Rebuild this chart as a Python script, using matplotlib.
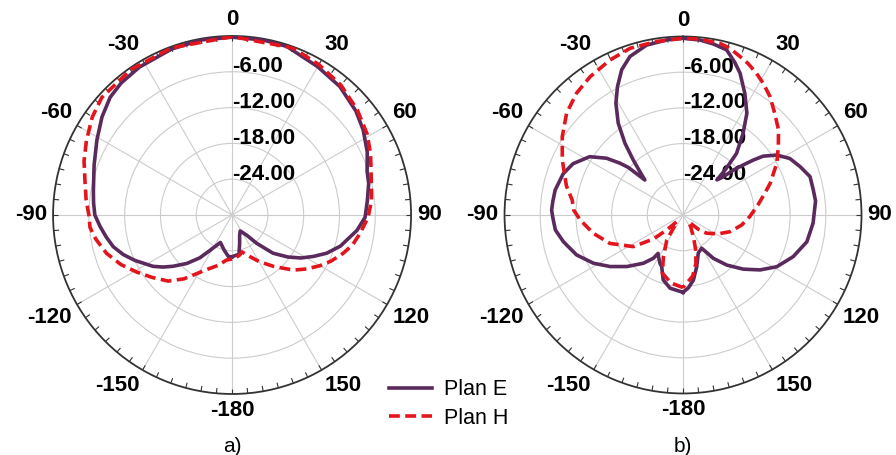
import numpy as np
import matplotlib
matplotlib.use("Agg")
import matplotlib.pyplot as plt
import matplotlib.transforms as mtransforms
from matplotlib.lines import Line2D

plt.rcParams['font.family'] = ['Liberation Sans', 'DejaVu Sans']

# a) Plan E (angle en degrés, gain en dB)
ang_a_e = [-180, -175, -167, -157, -148, -143, -137, -131, -127, -123, -115, -110, -105,
           -100, -95, -90, -85, -80, -75, -70, -61, -53, -46, -40, -32, -20, -10,
           0, 10, 18, 30, 40, 50, 57, 65, 72, 77, 84, 91, 97, 106, 112, 117, 122, 127, 133,
           139, 144, 153, 160, 165, 170, 175, 180]
gain_a_e = [-23.0, -23.0, -24.0, -25.0, -23.0, -21.0, -18.9, -16.9, -15.5, -14.2, -12.0, -10.6, -9.4,
            -8.6, -7.8, -7.0, -6.7, -6.4, -6.0, -5.4, -4.1, -2.7, -1.6, -1.1, -0.75, -0.4, -0.2,
            -0.2, -0.2, -0.3, -1.3, -1.9, -2.9, -3.8, -5.0, -6.2, -6.5, -7.2, -7.7, -8.9, -11.1, -12.9, -14.7,
            -16.4, -18.3, -20.6, -23.7, -25.8, -27.0, -26.3, -25.1, -23.3, -23.2, -23.0]

# a) Plan H
ang_a_h = [-180, -173, -165, -155, -150, -143, -136, -128, -121, -114, -107, -100,
           -95, -90, -84, -77, -70, -63, -55, -48, -35, -20, 0, 20, 30, 40, 50, 59, 66, 72,
           84, 91, 98, 104, 109, 115, 120, 126, 132, 141, 150, 160, 165, 169, 175, 180]
gain_a_h = [-22.6, -22.4, -21.3, -19.9, -18.8, -16.6, -14.6, -13.0, -11.4, -9.6, -8.0, -6.8,
            -6.1, -6.0, -5.4, -4.7, -3.6, -2.6, -1.4, -0.6, -0.3, -0.2, -0.1, -0.2, -0.9, -1.6, -2.6, -3.6,
            -4.6, -5.5, -6.5, -7.2, -8.3, -9.2, -10.3, -11.7, -13.0, -14.6, -16.2, -18.9, -21.0, -22.9,
            -23.6, -23.2, -22.8, -22.6]

# b) Plan E
ang_b_e = [-180, -170, -163, -157.6, -154.5, -150, -147, -145.6, -140.6, -132.6, -125.3,
           -118.3, -110.6, -102.6, -96.7, -91, -87.8, -84, -79, -71, -65, -58, -53.4,
           -50.6, -49, -47.5, -44.8, -42.1, -39, -35.2, -31, -27.1, -22.9, -18.5, -12.1,
           -5.3, 0, 5.5, 10, 14.8, 18.7, 21.9, 27, 32.1, 36.4, 41, 43, 44, 46.5, 48.2,
           50.3, 52, 53.7, 57.4, 62.1, 67.6, 73.2, 79.1, 84, 93.6, 102.2, 110.7, 118.9,
           125.5, 132, 138.8, 145, 150.7, 158.2, 165.2, 171, 175.9, 180]
gain_b_e = [-17.0, -17.5, -18.6, -20.6, -21.0, -21.8, -22.3, -21.2, -19.5, -17.2, -15.0,
            -12.9, -10.9, -9.4, -8.4, -8.1, -7.9, -8.0, -8.1, -8.7, -9.6, -11.5, -14.0,
            -16.3, -17.8, -21.3, -19.7, -17.5, -14.5, -11.1, -8.1, -5.8, -3.5, -1.9, -0.8,
            -0.45, -0.3, -0.45, -0.8, -1.3, -2.9, -4.3, -7.1, -9.8, -13.0, -16.3, -19.5, -21.8, -20.7, -18.7,
            -16.8, -15.0, -13.3, -11.3, -9.7, -8.7, -7.7, -7.7, -7.6, -8.1, -8.7, -10.2, -12.0,
            -14.1, -16.4, -18.8, -21.1, -23.6, -23.1, -21.0, -18.9, -17.7, -17.0]

# b) Plan H
ang_b_h = [-180, -170, -160.5, -154.7, -147, -143.9, -136.8, -132.6, -129, -122.5, -111.2,
           -101.5, -92.8, -87.4, -82.3, -76, -65.5, -57, -48.8, -41.1, -33.9, -25.2, -17.6,
           -8.6, 0, 5, 12.2, 15.7, 19.8, 23.3, 27.5, 31.4, 36.3, 42.1, 48.3, 54.4, 61.1,
           70, 75.2, 82.4, 91.5, 99.7, 109.5, 118.3, 127.7, 133, 140, 148, 155, 160, 165,
           171, 180]
gain_b_h = [-17.8, -18.4, -19.6, -22.3, -25.0, -27.2, -28.5, -26.3, -23.6, -20.1, -16.8,
            -14.6, -12.7, -11.6, -11.2, -9.8, -7.7, -5.8, -4.0, -2.8, -2.0, -1.2, -0.6,
            -0.5, -0.3, -0.3, -0.5, -0.9, -1.7, -2.3, -3.2, -4.1, -5.3, -7.0, -8.5, -10.3, -12.0,
            -14.4, -15.8, -17.3, -18.8, -20.0, -21.6, -23.3, -25.0, -26.5, -28.5, -27.5, -25.8, -23.8, -21.6,
            -19.6, -17.8]

theta_ticks = [0, 30, 60, 90, 120, 150, 180, 210, 240, 270, 300, 330]
theta_labels = ['0', '30', '60', '90', '120', '150', '-180', '-150', '-120', '-90', '-60', '-30']
r_ticks = [-6, -12, -18, -24]
r_labels = ['-6.00', '-12.00', '-18.00', '-24.00']

col_e = '#5b2a5c'
col_h = '#e3141c'
tirets = (0, (3.0, 1.5))

fig = plt.figure(figsize=(8.96, 4.55), dpi=100)
ax_a = fig.add_axes([0.0592, 0.1341, 0.3996, 0.7868], projection='polar')
ax_b = fig.add_axes([0.5631, 0.1352, 0.3984, 0.7846], projection='polar')


def panneau(ax, ang_e, g_e, ang_h, g_h):
    ax.set_theta_zero_location('N')
    ax.set_theta_direction(-1)
    ax.plot(np.radians(ang_e), g_e, color=col_e, lw=2.6, zorder=4)
    ax.plot(np.radians(ang_h), g_h, color=col_h, lw=2.6, ls=tirets, zorder=5)

    ax.set_xticks(np.radians(theta_ticks))
    ax.set_xticklabels([])
    ax.tick_params(axis='x', length=0)
    ax.set_yticks(r_ticks)
    ax.set_yticklabels([])
    ax.grid(True, color='#cccccc', lw=0.8)
    ax.spines['polar'].set_color('#333333')
    ax.spines['polar'].set_linewidth(1.3)

    # petites graduations tous les 5 degrés
    graduations = np.radians(np.arange(0, 360, 5))
    ax.vlines(graduations, -0.9, 0, color='#333333', lw=0.8, zorder=3)
    ax.set_rlim(-30, 0)

    # étiquettes angulaires à l'extérieur du cercle
    for t, lab in zip(theta_ticks, theta_labels):
        s, c = np.sin(np.radians(t)), np.cos(np.radians(t))
        ha = 'left' if s > 0.1 else ('right' if s < -0.1 else 'center')
        va = 'bottom' if c > 0.1 else ('top' if c < -0.1 else 'center')
        ax.text(np.radians(t), 1.0, lab, ha=ha, va=va, fontsize=16,
                fontweight='bold', clip_on=False)

    trans = mtransforms.offset_copy(ax.transData, fig=fig, x=0, y=5, units='dots')
    for r, lab in zip(r_ticks, r_labels):
        ax.text(0, r, lab, transform=trans, ha='left', va='center',
                fontsize=16, fontweight='bold', zorder=3)


panneau(ax_a, ang_a_e, gain_a_e, ang_a_h, gain_a_h)
panneau(ax_b, ang_b_e, gain_b_e, ang_b_h, gain_b_h)

fig.text(232 / 896, 1 - 446 / 455, 'a)', ha='center', va='center', fontsize=15)
fig.text(683 / 896, 1 - 446 / 455, 'b)', ha='center', va='center', fontsize=15)

poignees = [Line2D([], [], color=col_e, lw=2.6),
            Line2D([], [], color=col_h, lw=2.6, ls=tirets)]
fig.legend(poignees, ['Plan E', 'Plan H'], loc='center left',
           bbox_to_anchor=(389 / 896, 1 - 404 / 455), frameon=False,
           fontsize=15.5, handlelength=2.0, handletextpad=0.55, labelspacing=0.35,
           borderpad=0, borderaxespad=0)

fig.savefig('out.png', dpi=100)
